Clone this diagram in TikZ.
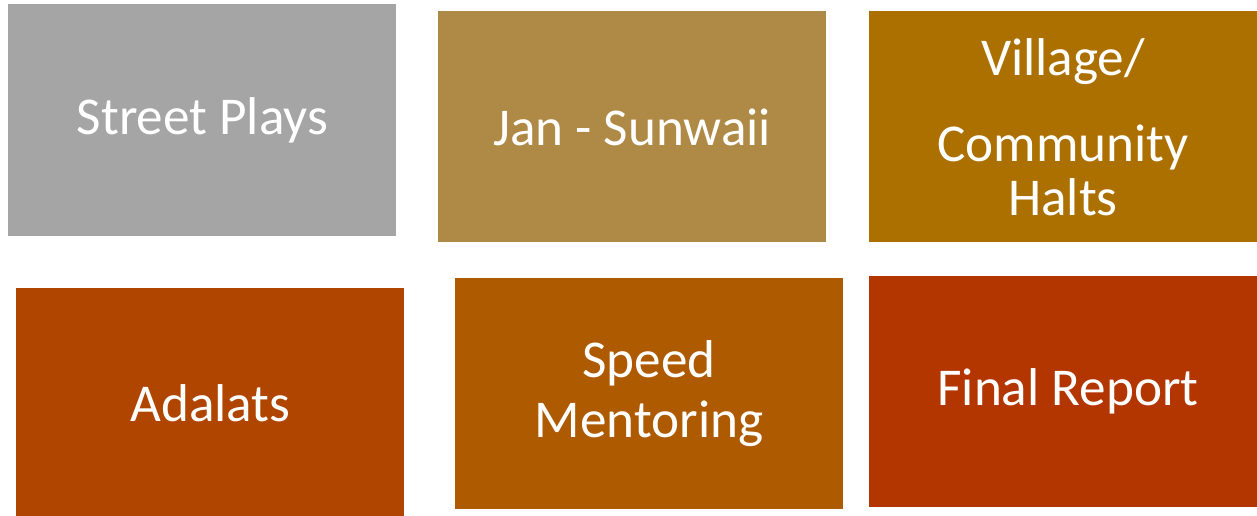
\documentclass[tikz,border=0pt]{standalone}
\usepackage{fontspec}
\setmainfont{Carlito}
\usetikzlibrary{positioning}
\definecolor{playgray}{HTML}{A5A5A5}
\definecolor{sunwaiigold}{HTML}{AE8A46}
\definecolor{haltochre}{HTML}{AB7000}
\definecolor{adalatrust}{HTML}{B04500}
\definecolor{mentorbrown}{HTML}{AE5A00}
\definecolor{reportred}{HTML}{B33600}
\tikzset{actbox/.style={rectangle, fill=#1, text=white, minimum width=194pt, minimum height=115.5pt, inner sep=0pt, align=center, font=\fontsize{26.6}{30}\selectfont}}
\begin{document}
\begin{tikzpicture}
\useasboundingbox (0,0) rectangle (628.5pt,-257.5pt);
% top row
\node (street) [actbox=playgray, anchor=north west, minimum height=116pt] at (4pt,-2pt) {Street Plays};
\node (sunwaii) [actbox=sunwaiigold, right=20.5pt of street, yshift=-3.25pt] {Jan - Sunwaii};
\node (village) [actbox=haltochre, right=21pt of sunwaii, font=\fontsize{26.6}{27}\selectfont] {Village/\\[16pt]Community\\Halts};
% bottom row
\node (report) [actbox=reportred, below=16.5pt of village] {\hspace*{5pt}Final Report};
\node (speed) [actbox=mentorbrown, left=12.5pt of report, yshift=-0.75pt] {Speed\\Mentoring};
\node (adalats) [actbox=adalatrust, left=25pt of speed, yshift=-5.25pt] {Adalats};
\end{tikzpicture}
\end{document}
